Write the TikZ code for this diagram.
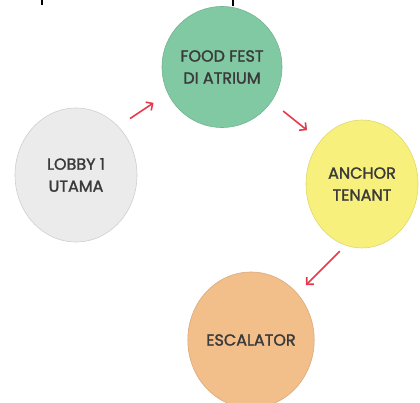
\documentclass[tikz,border=0pt]{standalone}
\usepackage{fontspec}
\setmainfont{Poppins}
\newfontfamily\boxfont{Poppins}[FakeBold=1.6]
\usetikzlibrary{shapes.geometric,arrows.meta}

\definecolor{foodgreen}{HTML}{80C9A2}
\definecolor{lobbygray}{HTML}{EBEBEB}
\definecolor{anchoryellow}{HTML}{F7F07C}
\definecolor{escorange}{HTML}{F2BE8A}
\definecolor{rimgray}{HTML}{CFCFCF}
\definecolor{textgray}{HTML}{3A3A3A}
\definecolor{arrowred}{HTML}{E8384C}

\begin{document}
\begin{tikzpicture}[x=1pt,y=-1pt]

        \useasboundingbox (0,0) rectangle (420,403);

        % cut off marks at the top edge
        \fill[black] (41,0) rectangle (43,5);
        \fill[black] (232,0) rectangle (234,6);

        \begin{scope}[every node/.style={ellipse,draw=rimgray,line width=.6pt,
            inner sep=0pt,text=textgray,align=center,
            font=\boxfont\fontsize{16}{22}\selectfont}]
          \node[fill=lobbygray,minimum width=122pt,minimum height=134pt]
            (lobby)  at (76,175)  {LOBBY 1\\UTAMA};
          \node[fill=foodgreen,draw=foodgreen!90!black,minimum width=120pt,minimum height=121pt]
            (food)   at (222,67)  {FOOD FEST\\DI ATRIUM};
          \node[fill=anchoryellow,draw=anchoryellow!90!black,minimum width=112pt,minimum height=128pt]
            (anchor) at (362,184) {ANCHOR\\TENANT};
          \node[fill=escorange,draw=escorange!90!black,minimum width=122pt,minimum height=136pt]
            (escalator) at (251,340) {ESCALATOR};
        \end{scope}

        \begin{scope}[every edge/.style={draw=arrowred,line width=1.6pt,
            -{Straight Barb[length=5pt,width=10pt]}}]
          \path (lobby.49)   edge[shorten <=14pt,shorten >=17pt] (food.206);
          \path (food.-35)   edge[shorten <=15pt,shorten >=17pt] (anchor.134);
          \path (anchor.255) edge[shorten <=8pt,shorten >=12pt]  (escalator.45);
        \end{scope}

      \end{tikzpicture}
\end{document}
